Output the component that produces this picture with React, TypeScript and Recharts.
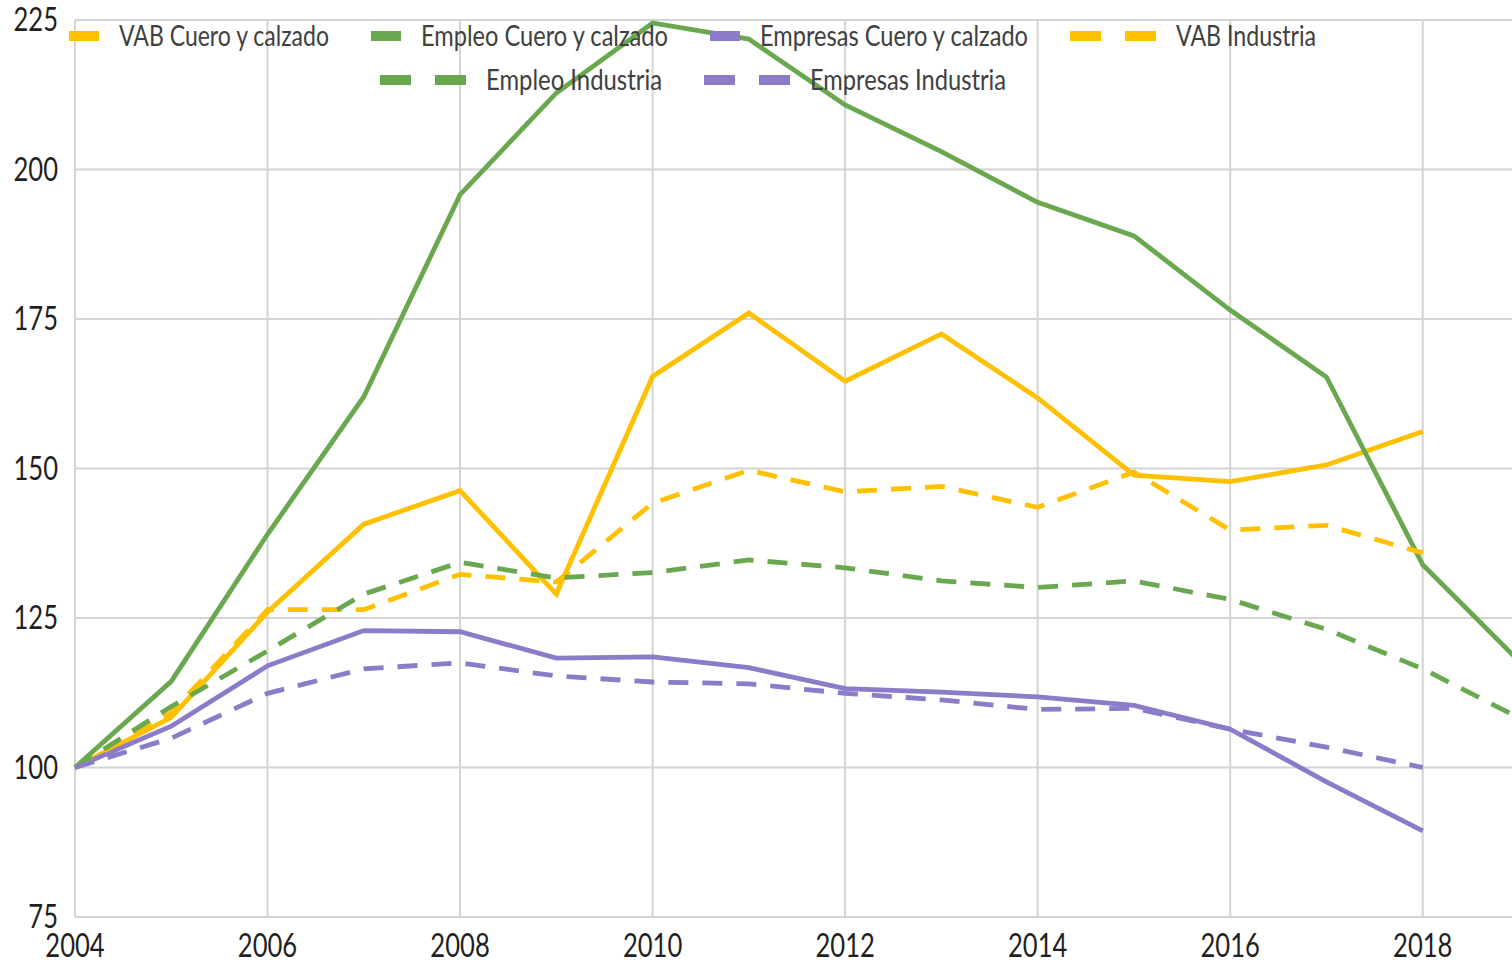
import { CartesianGrid, Line, LineChart, XAxis, YAxis } from "recharts";

const years = [2004, 2005, 2006, 2007, 2008, 2009, 2010, 2011, 2012, 2013, 2014, 2015, 2016, 2017, 2018, 2019];
const vabCuero = [100, 108.4, 126, 140.7, 146.3, 129, 165.4, 176, 164.6, 172.5, 161.8, 148.9, 147.8, 150.6, 156.2, null];
const empleoCuero = [100, 114.4, 139, 162, 195.8, 212.8, 224.5, 221.8, 210.8, 203, 194.5, 188.9, 176.5, 165.3, 133.9, 117.8];
const empresasCuero = [100, 106.9, 117, 122.9, 122.7, 118.3, 118.5, 116.7, 113.2, 112.6, 111.8, 110.4, 106.4, 97.6, 89.4, null];
const vabIndustria = [100, 109.2, 126.4, 126.4, 132.3, 131, 144.2, 149.7, 146.1, 147, 143.5, 149.4, 139.7, 140.5, 135.9, null];
const empleoIndustria = [100, 110.2, 119.5, 129, 134.3, 131.7, 132.6, 134.7, 133.4, 131.2, 130.1, 131.2, 128.1, 123.1, 116.5, 108.3];
const empresasIndustria = [100, 104.9, 112.4, 116.5, 117.5, 115.3, 114.3, 114, 112.4, 111.3, 109.7, 109.9, 106.4, 103.4, 100, null];

const xTicks = [2004, 2006, 2008, 2010, 2012, 2014, 2016, 2018];
const yTicks = [75, 100, 125, 150, 175, 200, 225];

const ORANGE = "#FFC000";
const GREEN = "#6AA84F";
const PURPLE = "#8B7BC8";
const FONT = "Lato, 'Open Sans', sans-serif";

const series = [
    { key: "vabCuero", name: "VAB Cuero y calzado", values: vabCuero, color: ORANGE, dashed: false },
    { key: "empleoCuero", name: "Empleo Cuero y calzado", values: empleoCuero, color: GREEN, dashed: false },
    { key: "empresasCuero", name: "Empresas Cuero y calzado", values: empresasCuero, color: PURPLE, dashed: false },
    { key: "vabIndustria", name: "VAB Industria", values: vabIndustria, color: ORANGE, dashed: true },
    { key: "empleoIndustria", name: "Empleo Industria", values: empleoIndustria, color: GREEN, dashed: true },
    { key: "empresasIndustria", name: "Empresas Industria", values: empresasIndustria, color: PURPLE, dashed: true },
];

// label widths in the legend (the original font is a narrow one)
const labelWidth: Record<string, number> = {
    vabCuero: 210,
    empleoCuero: 247,
    empresasCuero: 268,
    vabIndustria: 140,
    empleoIndustria: 176,
    empresasIndustria: 196,
};

const data = years.map((year, i) => {
    const row: Record<string, number | null> = { year };
    series.forEach(s => { row[s.key] = s.values[i]; });
    return row;
});

const XTick = (props: any) => {
    const { x, y, payload } = props;
    return (
        <g transform={`translate(${x},${y + 21})`}>
            <text transform="scale(0.8,1)" textAnchor="middle" fontFamily={FONT} fontSize={32} fill="#1f1f1f">{payload.value}</text>
        </g>
    );
};

const YTick = (props: any) => {
    const { x, y, payload } = props;
    return (
        <g transform={`translate(${x},${y + 11})`}>
            <text transform="scale(0.8,1)" textAnchor="end" fontFamily={FONT} fontSize={32} fill="#1f1f1f">{payload.value}</text>
        </g>
    );
};

const Swatch = ({ color, dashed }: { color: string; dashed: boolean }) => (
    <svg width={dashed ? 86 : 30} height={10} style={{ display: "block" }}>
        <rect x={0} y={0} width={dashed ? 31 : 30} height={10} fill={color} />
        {dashed && <rect x={55} y={0} width={31} height={10} fill={color} />}
    </svg>
);

const LegendRow = ({ items, top }: { items: typeof series; top: number }) => (
    <div style={{ position: "absolute", left: 0, top, width: 1385, height: 44, display: "flex", justifyContent: "center", alignItems: "center", gap: 42 }}>
        {items.map(s => (
            <div key={s.key} style={{ display: "flex", alignItems: "center" }}>
                <Swatch color={s.color} dashed={s.dashed} />
                <svg width={labelWidth[s.key]} height={44} style={{ display: "block", marginLeft: 20, overflow: "visible" }}>
                    <text x={0} y={32} fontFamily={FONT} fontSize={28} fill="#404040" textLength={labelWidth[s.key]} lengthAdjust="spacingAndGlyphs">{s.name}</text>
                </svg>
            </div>
        ))}
    </div>
);

export default function App() {
    return (
        <div style={{ position: "absolute", left: 0, top: 0, width: 1512, height: 962, overflow: "hidden", background: "#fff" }}>
            <LineChart width={1530} height={962} data={data} margin={{ top: 20, right: 11, left: 0, bottom: 0 }}>
                <CartesianGrid stroke="#d4d4d4" strokeWidth={2} verticalValues={xTicks} horizontalValues={yTicks} />
                <XAxis
                    dataKey="year"
                    type="number"
                    domain={[2004, 2019]}
                    ticks={xTicks}
                    axisLine={false}
                    tickLine={false}
                    tickSize={0}
                    tickMargin={19}
                    height={45}
                    interval={0}
                    tick={<XTick />}
                />
                <YAxis
                    type="number"
                    domain={[75, 225]}
                    ticks={yTicks}
                    axisLine={false}
                    tickLine={false}
                    tickSize={0}
                    tickMargin={17}
                    width={75}
                    interval={0}
                    tick={<YTick />}
                />
                {series.map(s => (
                    <Line
                        key={s.key}
                        dataKey={s.key}
                        name={s.name}
                        type="linear"
                        stroke={s.color}
                        strokeWidth={4.8}
                        strokeDasharray={s.dashed ? "20 14" : undefined}
                        dot={false}
                        activeDot={false}
                        isAnimationActive={false}
                    />
                ))}
            </LineChart>
            <LegendRow items={series.slice(0, 4)} top={14} />
            <LegendRow items={series.slice(4)} top={58} />
        </div>
    );
}
